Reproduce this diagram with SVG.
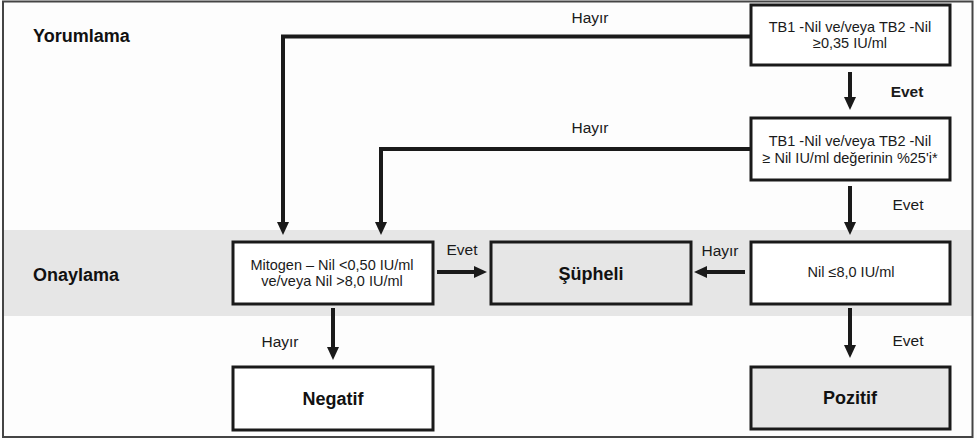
<svg xmlns="http://www.w3.org/2000/svg" width="977" height="440" viewBox="0 0 977 440">
<style>
  .box { stroke: #1a1a1a; stroke-width: 3; fill: #ffffff; }
  .grey { fill: #e6e6e6; }
  .t { font-family: "Liberation Sans", Arial, sans-serif; font-size: 14.5px; fill: #1a1a1a; text-anchor: middle; }
  .lbl { font-family: "Liberation Sans", Arial, sans-serif; font-size: 15.5px; fill: #1a1a1a; text-anchor: middle; }
  .b { font-weight: bold; }
  .big { font-family: "Liberation Sans", Arial, sans-serif; font-size: 18px; font-weight: bold; fill: #111; }
  .c { fill: none; stroke: #1a1a1a; stroke-width: 4; marker-end: url(#ah); }
</style>
<defs>
  <marker id="ah" markerUnits="userSpaceOnUse" viewBox="0 0 13 12" markerWidth="13" markerHeight="12" refX="1" refY="6" orient="auto">
    <path d="M0,0 L13,6 L0,12 z" fill="#1a1a1a"/>
  </marker>
</defs>
<rect x="0" y="0" width="977" height="440" fill="#fdfdfd"/>
<rect x="4" y="230" width="968" height="86" fill="#e6e6e6"/>
<rect x="3" y="1.5" width="969.5" height="435.5" fill="none" stroke="#444" stroke-width="2"/>

<g id="lane-labels">
  <text class="big" x="33" y="42">Yorumlama</text>
  <text class="big" x="33" y="281">Onaylama</text>
</g>

<g id="connectors">
  <path class="c" d="M750,36.5 H283 V223"/>
  <path class="c" d="M750,149 H381 V223"/>
  <path class="c" d="M850,72 V98"/>
  <path class="c" d="M850,186 V223"/>
  <path class="c" d="M437,272 H475"/>
  <path class="c" d="M745,272 H706"/>
  <path class="c" d="M333,308 V348"/>
  <path class="c" d="M850,308 V346"/>
  <text class="lbl" x="590" y="23">Hayır</text>
  <text class="lbl" x="590" y="133">Hayır</text>
  <text class="lbl b" x="907" y="97">Evet</text>
  <text class="lbl" x="908" y="210">Evet</text>
  <text class="lbl" x="462" y="255">Evet</text>
  <text class="lbl" x="720" y="256">Hayır</text>
  <text class="lbl" x="280" y="347">Hayır</text>
  <text class="lbl" x="908" y="346">Evet</text>
</g>

<g id="n-tb035">
  <rect class="box" x="751" y="5" width="199" height="60"/>
  <text class="t" x="850" y="32">TB1 -Nil ve/veya TB2 -Nil</text>
  <text class="t" x="850" y="48">≥0,35 IU/ml</text>
</g>

<g id="n-tb25">
  <rect class="box" x="751" y="118" width="199" height="62"/>
  <text class="t" x="850" y="146">TB1 -Nil ve/veya TB2 -Nil</text>
  <text class="t" x="850" y="163">≥ Nil IU/ml değerinin %25'i*</text>
</g>

<g id="n-mitogen">
  <rect class="box" x="233" y="242" width="200" height="62"/>
  <text class="t" x="332" y="270">Mitogen – Nil &lt;0,50 IU/ml</text>
  <text class="t" x="332" y="286">ve/veya Nil &gt;8,0 IU/ml</text>
</g>

<g id="n-supheli">
  <rect class="box grey" x="491" y="242" width="200" height="62"/>
  <text class="big" x="591" y="280" text-anchor="middle">Şüpheli</text>
</g>

<g id="n-nil">
  <rect class="box" x="751" y="242" width="199" height="62"/>
  <text class="t" x="851" y="277">Nil ≤8,0 IU/ml</text>
</g>

<g id="n-negatif">
  <rect class="box" x="233" y="367" width="200" height="63"/>
  <text class="big" x="333" y="405" text-anchor="middle">Negatif</text>
</g>

<g id="n-pozitif">
  <rect class="box grey" x="751" y="367" width="199" height="62"/>
  <text class="big" x="850" y="404" text-anchor="middle">Pozitif</text>
</g>
</svg>
